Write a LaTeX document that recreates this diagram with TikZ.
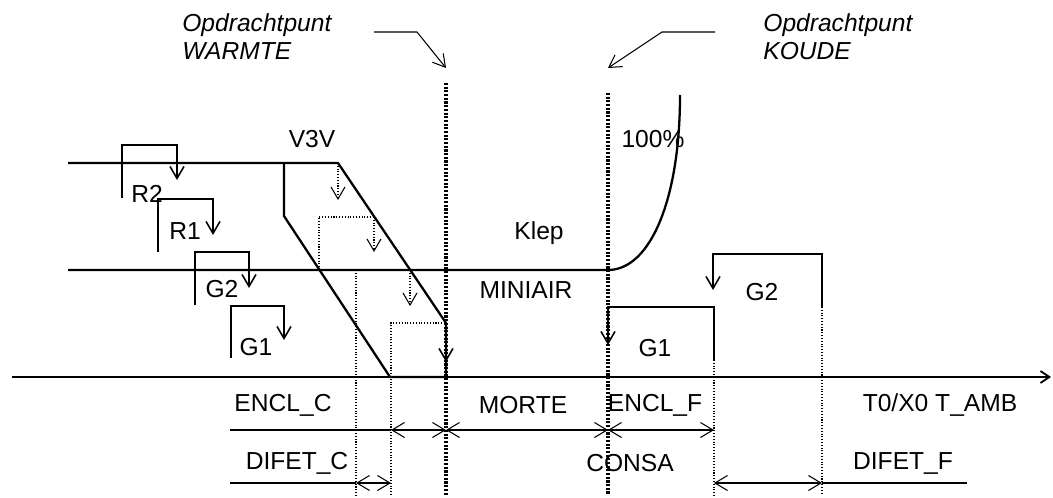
\documentclass[tikz,border=0pt]{standalone}
\usepackage{fontspec}
\setmainfont{Liberation Sans}
\usetikzlibrary{arrows.meta, positioning, calc}

\begin{document}
\begin{tikzpicture}[x=0.02cm, y=-0.02cm,
    lbl/.style={font=\fontsize{14}{16}\selectfont, inner sep=0pt},
    setlbl/.style={font=\fontsize{14}{16}\selectfont\itshape, align=left, inner sep=0pt, anchor=north west},
    level/.style={line width=1.3pt},
    hyst/.style={line width=0.9pt},
    guide/.style={densely dotted, line width=0.6pt},
    setline/.style={dash pattern=on 1.2pt off 0.9pt, line width=1.9pt},
    dim/.style={line width=0.6pt},
    barb/.style={-{Straight Barb[length=2.4mm, width=2.8mm]}},
    twobarb/.style={{Straight Barb[length=2.5mm, width=3mm]}-{Straight Barb[length=2.5mm, width=3mm]}}
  ]
  \useasboundingbox (0,0) rectangle (1053,497);

  % setpoints
  \coordinate (warm) at (446,83);
  \coordinate (cold) at (608,93);
  \draw[setline] (warm) -- (446,495);
  \draw[setline] (cold) -- (608,495);
  \node[setlbl] (warmtxt) at (182,13) {Opdrachtpunt\\WARMTE};
  \node[setlbl] (coldtxt) at (763,13) {Opdrachtpunt\\KOUDE};
  \draw[dim, barb] (374,32) -- (417,32) -- ([yshift=0.3cm]warm);
  \draw[dim, barb] (715,32) -- (662,32) -- ([yshift=0.5cm]cold);

  % axis
  \draw[line width=1pt, -{Straight Barb[length=1.8mm, width=2.4mm]}] (12,377) -- (1051,377);

  % V3V
  \draw[level] (68,163) -- (338,163) -- (446,323) -- (446,377);
  \draw[level] (284,163) -- (284,216) -- (390,377) -- (446,377);
  \draw[guide, barb] (338,163) -- (338,200);
  \draw[guide] (319,270) -- (319,217) -- (374,217);
  \draw[guide, barb] (374,217) -- (374,252);
  \draw[guide, barb] (410,270) -- (410,306);
  \draw[guide] (391,495) -- (391,323) -- (446,323);
  \draw[hyst, barb] (446,323) -- (446,362);
  \draw[guide] (356,270) -- (356,495);

  % klep
  \draw[level] (68,270) -- (608,270) .. controls (650,270) and (680,200) .. (680,95);

  % left steps
  \draw[hyst, barb] (122,198) -- (122,145) -- (177,145) -- (177,180);
  \draw[hyst, barb] (158,252) -- (158,199) -- (213,199) -- (213,235);
  \draw[hyst, barb] (195,305) -- (195,252) -- (249,252) -- (249,288);
  \draw[hyst, barb] (231,358) -- (231,306) -- (284,306) -- (284,340);

  % right steps
  \draw[hyst, barb] (714,360) -- (714,307) -- (608,307) -- (608,345);
  \draw[hyst, barb] (822,307) -- (822,254) -- (713,254) -- (713,290);
  \draw[guide] (714,360) -- (714,495);
  \draw[guide] (822,307) -- (822,495);

  % labels
  \node[lbl] (r2) at (147,194) {R2};
  \node[lbl] (r1) at (185,231) {R1};
  \node[lbl] (g2l) at (222,289) {G2};
  \node[lbl] (g1l) at (256,347) {G1};
  \node[lbl] (v3v) at (312,139) {V3V};
  \node[lbl] (pct) at (653,139) {100\%};
  \node[lbl] (klep) at (539,233) {Klep};
  \node[lbl] (mini) at (526,290) {MINIAIR};
  \node[lbl] (g1r) at (655,348) {G1};
  \node[lbl] (g2r) at (762,292) {G2};

  % dimensions
  \node[lbl] (enclc) at (283,405) {ENCL\_C};
  \node[lbl] (morte) at (523,405) {MORTE};
  \node[lbl] (enclf) at (655,405) {ENCL\_F};
  \node[lbl] (amb) at (940,405) {T0/X0 T\_AMB};
  \node[lbl] (difc) at (297,463) {DIFET\_C};
  \node[lbl] (consa) at (630,463) {CONSA};
  \node[lbl] (diff) at (903,463) {DIFET\_F};
  \draw[dim] (230,430) -- (391,430);
  \draw[dim, twobarb] (391,430) -- (446,430);
  \draw[dim, twobarb] (446,430) -- (608,430);
  \draw[dim, twobarb] (608,430) -- (714,430);
  \draw[dim] (230,483) -- (356,483);
  \draw[dim, twobarb] (356,483) -- (391,483);
  \draw[dim, twobarb] (714,483) -- (822,483);
  \draw[dim] (822,483) -- (967,483);
\end{tikzpicture}
\end{document}
